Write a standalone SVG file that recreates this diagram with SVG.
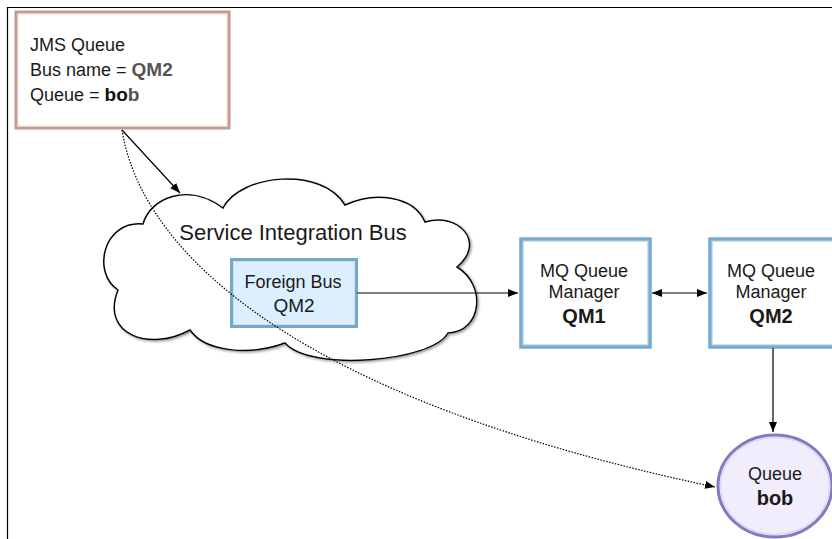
<svg xmlns="http://www.w3.org/2000/svg" width="832" height="539" viewBox="0 0 832 539">
<style>
  text { font-family: "Liberation Sans", Arial, sans-serif; }
  .t { fill: #1a1a1a; }
  .b { font-weight: bold; }
  .conn { fill: none; stroke: #000; stroke-width: 1.2; }
  .dot { fill: none; stroke: #000; stroke-width: 1.2; stroke-dasharray: 1.5 1.5; }
  .bluebox { fill: #ffffff; stroke: #78aacb; stroke-width: 3.5; }
  .inner { fill: none; stroke: #c6e0f0; stroke-width: 1; }
</style>
<defs>
  <marker id="ah" viewBox="0 0 10 8" refX="10" refY="4" markerWidth="10" markerHeight="8" markerUnits="userSpaceOnUse" orient="auto-start-reverse">
    <path d="M0,0 L10,4 L0,8 Z" fill="#000"/>
  </marker>
  <filter id="sh" x="-5%" y="-5%" width="115%" height="115%">
    <feDropShadow dx="1.5" dy="1.5" stdDeviation="0.8" flood-color="#888" flood-opacity="0.8"/>
  </filter>
</defs>
<rect width="832" height="539" fill="#fff"/>
<path d="M7.5,539 V7.5 H832" fill="none" stroke="#000" stroke-width="1.2"/>

<g id="jms-queue">
  <rect x="16" y="12" width="213" height="116" fill="#fff" stroke="#c49a90" stroke-width="3"/>
  <rect x="18" y="14" width="209" height="112" fill="none" stroke="#ecd6d0" stroke-width="1"/>
  <text class="t" x="30" y="51" font-size="18">JMS Queue</text>
  <text class="t" x="30" y="76" font-size="18">Bus name = <tspan class="b" fill="#555" font-size="19">QM2</tspan></text>
  <text class="t" x="30" y="101" font-size="18">Queue = <tspan class="b" font-size="19" fill="#111">bo</tspan><tspan class="b" font-size="19" fill="#555">b</tspan></text>
</g>

<g id="service-integration-bus">
  <path filter="url(#sh)" d="M143,224 C150,198 188,182 223,208 C240,174 322,166 345,205 C375,191 414,196 425,222 C458,212 487,242 457,267 C487,285 482,332 448,333 C432,362 310,372 285,343 C250,356 205,352 190,330 C150,352 100,335 118,290 C91,272 104,220 143,224 Z" fill="#fff" stroke="#000" stroke-width="1.5"/>
  <text class="t" x="293" y="240" font-size="22" text-anchor="middle" fill="#222">Service Integration Bus</text>
</g>

<g id="foreign-bus">
  <rect x="231.5" y="259.5" width="125" height="67" fill="#dcefff" stroke="#78a8c8" stroke-width="3"/>
  <rect x="233.5" y="261.5" width="121" height="63" fill="none" stroke="#c8e2f4" stroke-width="1"/>
  <text class="t" x="293" y="288" font-size="18" text-anchor="middle">Foreign Bus</text>
  <text class="t" x="294" y="312" font-size="19" text-anchor="middle">QM2</text>
</g>

<g id="mq-qm1">
  <rect class="bluebox" x="521" y="239" width="129" height="108"/>
  <rect class="inner" x="523.5" y="241.5" width="124" height="103"/>
  <text class="t" x="584" y="277" font-size="18" text-anchor="middle">MQ Queue</text>
  <text class="t" x="584" y="298" font-size="18" text-anchor="middle">Manager</text>
  <text class="t b" x="584" y="323" font-size="20" text-anchor="middle" fill="#111">QM1</text>
</g>

<g id="mq-qm2">
  <rect class="bluebox" x="710" y="239" width="129" height="108"/>
  <rect class="inner" x="712.5" y="241.5" width="124" height="103"/>
  <text class="t" x="771" y="277" font-size="18" text-anchor="middle">MQ Queue</text>
  <text class="t" x="771" y="298" font-size="18" text-anchor="middle">Manager</text>
  <text class="t b" x="771" y="323" font-size="20" text-anchor="middle" fill="#111">QM2</text>
</g>

<g id="queue-bob">
  <ellipse cx="775" cy="486" rx="57" ry="51" fill="#f1edfd" stroke="#8878c0" stroke-width="3"/>
  <ellipse cx="775" cy="486" rx="54.5" ry="48.5" fill="none" stroke="#d6cef0" stroke-width="1"/>
  <text class="t" x="775" y="480" font-size="18" text-anchor="middle">Queue</text>
  <text class="t b" x="775" y="505" font-size="20" text-anchor="middle" fill="#111">bob</text>
</g>

<g id="connectors">
  <path class="conn" d="M122,130 L180,193" marker-end="url(#ah)"/>
  <path class="dot" d="M122,130 C142,255 300,400 715,487" marker-end="url(#ah)"/>
  <path class="conn" d="M357,293 L518,293" marker-end="url(#ah)"/>
  <path class="conn" d="M652,293 L707,293" marker-start="url(#ah)" marker-end="url(#ah)"/>
  <path class="conn" d="M773,348 L773,432" marker-end="url(#ah)"/>
</g>
</svg>
